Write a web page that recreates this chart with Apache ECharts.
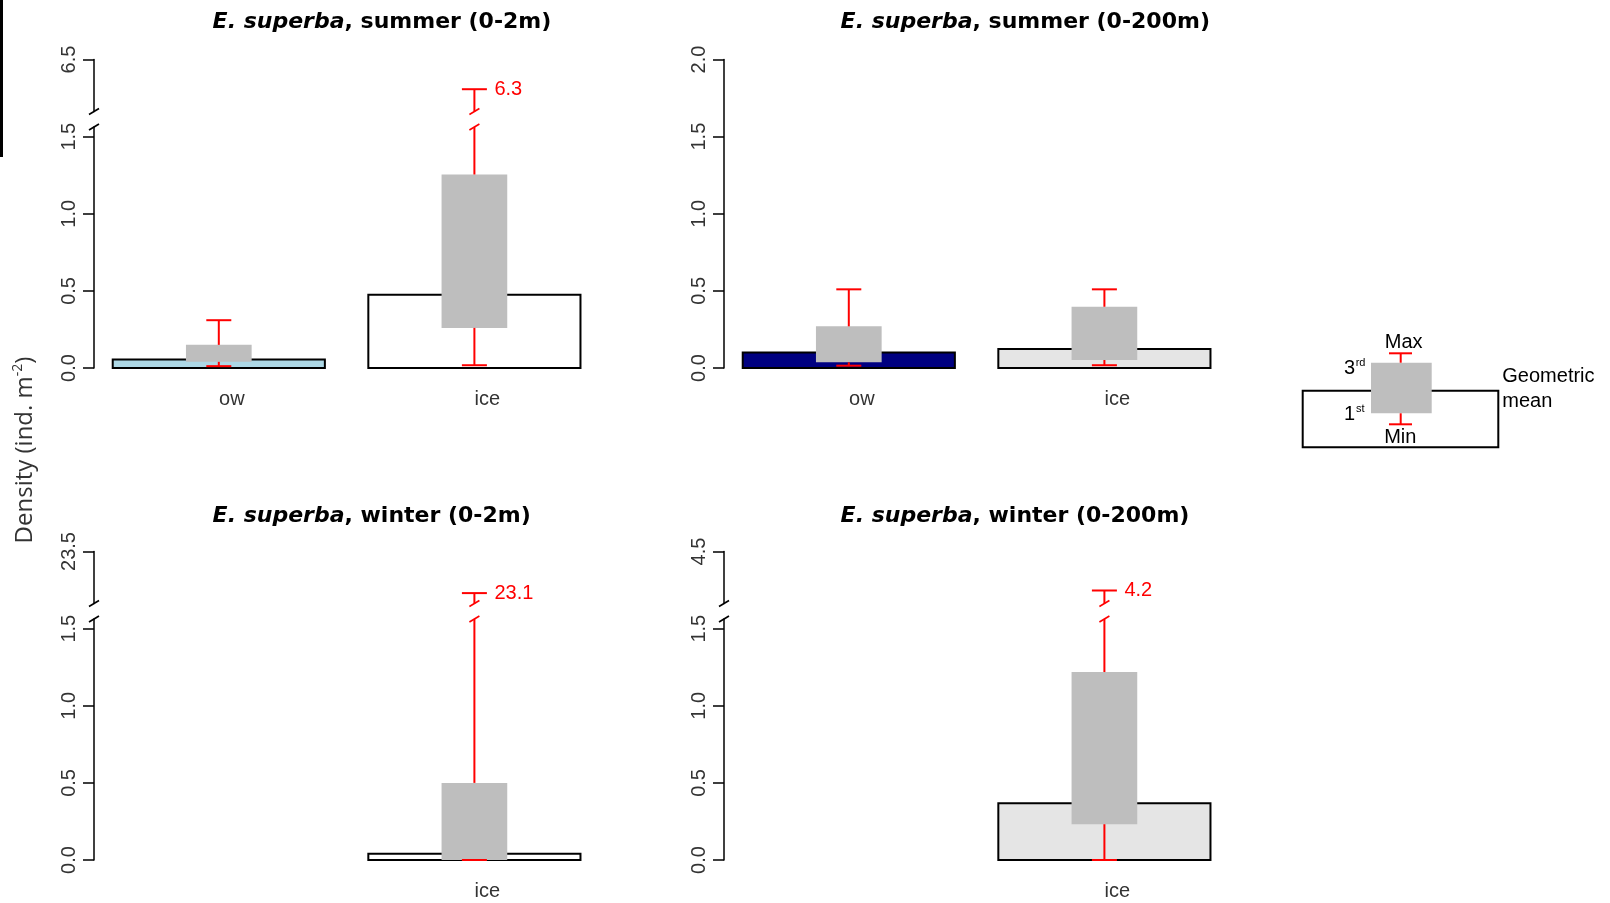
<!DOCTYPE html>
<html><head><meta charset="utf-8">
<script src="https://cdn.jsdelivr.net/npm/echarts@6/dist/echarts.min.js"></script>
<style>html,body{margin:0;padding:0;background:#fff}#c{width:1610px;height:903px}</style>
</head><body><div id="c"></div>
<script>
// ---------------- data ----------------
const categories = ['ow', 'ice'];

// E. superba, summer (0-2m)
const summer2Mean = [0.055, 0.475];
const summer2Q1   = [0.04, 0.26];
const summer2Q3   = [0.15, 1.255];
const summer2Min  = [0.012, 0.018];
const summer2Max  = [0.31, 6.3];

// E. superba, summer (0-200m)
const summer200Mean = [0.10, 0.123];
const summer200Q1   = [0.037, 0.052];
const summer200Q3   = [0.27, 0.397];
const summer200Min  = [0.015, 0.018];
const summer200Max  = [0.51, 0.51];

// E. superba, winter (0-2m)  (ice only)
const winter2Mean = [null, 0.04];
const winter2Q1   = [null, 0.0];
const winter2Q3   = [null, 0.50];
const winter2Min  = [null, 0.0];
const winter2Max  = [null, 23.1];

// E. superba, winter (0-200m)  (ice only)
const winter200Mean = [null, 0.368];
const winter200Q1   = [null, 0.232];
const winter200Q3   = [null, 1.219];
const winter200Min  = [null, 0.0];
const winter200Max  = [null, 4.2];

// axis ticks / breaks
const lowerTicks = [0, 0.5, 1.0, 1.5];
const fullTicks = [0, 0.5, 1.0, 1.5, 2.0];
const lowerAxisMax = 1.563;           // lower segment ends here (axis break)
const upperAxisMin = [6.15, null, 23.0, 4.1];
const upperTicks   = [6.5, null, 23.5, 4.5];

// ---------------- layout / style ----------------
const COL_LEFT = [91, 721];
const ROW_TOP = [59.5, 551.5];
const GRID_W = 511.2;
const AXIS_SHIFT = 3;
const TITLE_LEFT = [212.6, 840.6];
const TITLE_TOP = [11, 505];
const RED = '#ff0000';
const BOXGRAY = '#bebebe';
const TICK_FONT = 20;

const panels = [
  { name: 'summer (0-2m)', col: 0, row: 0, mean: summer2Mean, q1: summer2Q1, q3: summer2Q3, mn: summer2Min, mx: summer2Max,
    colors: ['#add8e6', '#ffffff'], broken: true, pi: 0 },
  { name: 'summer (0-200m)', col: 1, row: 0, mean: summer200Mean, q1: summer200Q1, q3: summer200Q3, mn: summer200Min, mx: summer200Max,
    colors: ['#000080', '#e5e5e5'], broken: false, pi: 1 },
  { name: 'winter (0-2m)', col: 0, row: 1, mean: winter2Mean, q1: winter2Q1, q3: winter2Q3, mn: winter2Min, mx: winter2Max,
    colors: ['#ffffff', '#ffffff'], broken: true, pi: 2 },
  { name: 'winter (0-200m)', col: 1, row: 1, mean: winter200Mean, q1: winter200Q1, q3: winter200Q3, mn: winter200Min, mx: winter200Max,
    colors: ['#ffffff', '#e5e5e5'], broken: true, pi: 3 }
];

function ln(x1, y1, x2, y2, color, w) {
  return { type: 'line', shape: { x1, y1, x2, y2 }, style: { stroke: color, lineWidth: w || 2 } };
}
function slash(x, y, color) {
  return ln(x - 5, y + 3, x + 5, y - 3, color, 1.6);
}

function barRender(colors) {
  return function (params, api) {
    const i = api.value(0), v = api.value(1);
    const b = api.coord([i, 0]), t = api.coord([i, v]);
    const w = api.size([1, 0])[0] * 0.83;
    return { type: 'rect', shape: { x: b[0] - w / 2, y: t[1], width: w, height: b[1] - t[1] },
      style: { fill: colors[i], stroke: '#000', lineWidth: 2 } };
  };
}
function boxRender(params, api) {
  const i = api.value(0), q1 = api.value(1), q3 = api.value(2);
  const a = api.coord([i, q1]), c = api.coord([i, q3]);
  const w = api.size([1, 0])[0] * 0.257;
  return { type: 'rect', shape: { x: a[0] - w / 2, y: c[1], width: w, height: a[1] - c[1] }, style: { fill: BOXGRAY } };
}
function whiskerRender(params, api) {
  const i = api.value(0), q1 = api.value(1), q3 = api.value(2), mn = api.value(3), mx = api.value(4);
  const cs = params.coordSys;
  const pQ1 = api.coord([i, q1]), pQ3 = api.coord([i, q3]), pMin = api.coord([i, mn]), pMax = api.coord([i, mx]);
  const x = pQ1[0], cap = 12.5;
  const ch = [ln(x, pQ1[1], x, pMin[1], RED), ln(x - cap, pMin[1], x + cap, pMin[1], RED)];
  if (pMax[1] < cs.y - 0.5) {
    ch.push(ln(x, pQ3[1], x, cs.y, RED));
    ch.push(slash(x, cs.y, RED));
  } else {
    ch.push(ln(x, pQ3[1], x, pMax[1], RED));
    ch.push(ln(x - cap, pMax[1], x + cap, pMax[1], RED));
  }
  return { type: 'group', children: ch };
}
function whiskerTopRender(params, api) {
  const i = api.value(0), mx = api.value(1);
  const cs = params.coordSys;
  const p = api.coord([i, mx]);
  const x = p[0], yb = cs.y + cs.height, cap = 12.5;
  return { type: 'group', children: [
    ln(x, yb, x, p[1], RED),
    ln(x - cap, p[1], x + cap, p[1], RED),
    slash(x, yb, RED),
    { type: 'text', x: x + 20, y: p[1], style: { text: String(mx), fill: RED, fontSize: 20, fontFamily: 'Liberation Sans', align: 'left', verticalAlign: 'middle' } }
  ] };
}
function axisSlashRender(atBottom) {
  return function (params, api) {
    const cs = params.coordSys;
    return slash(cs.x + AXIS_SHIFT, atBottom ? cs.y + cs.height : cs.y, '#000');
  };
}

const grids = [], xAxes = [], yAxes = [], series = [], titles = [];

function addGrid(top, height, left) {
  grids.push({ left, top, width: GRID_W, height, containLabel: false, outerBoundsMode: 'none' });
  return grids.length - 1;
}
function tickLabel(values) {
  return { show: true, rotate: 90, margin: 15, fontSize: TICK_FONT, fontFamily: 'Liberation Sans', color: '#333',
    formatter: v => Number(v).toFixed(1), customValues: values };
}
function tickMarks(values) {
  return { show: true, length: 11, lineStyle: { color: '#000', width: 1.5 }, customValues: values };
}
function yAxisBase(g, extra) {
  return Object.assign({
    gridIndex: g, type: 'value', offset: -AXIS_SHIFT,
    axisLine: { show: true, lineStyle: { color: '#000', width: 1.5 } },
    splitLine: { show: false }
  }, extra);
}

panels.forEach(p => {
  const left = COL_LEFT[p.col], T = ROW_TOP[p.row];
  const hasData = p.mean.map(v => v != null);
  const xBase = (g, showLabels) => ({
    gridIndex: g, type: 'category', data: categories, boundaryGap: true,
    axisLine: { show: false }, axisTick: { show: false }, splitLine: { show: false },
    axisLabel: { show: showLabels, fontSize: 20, fontFamily: 'Liberation Sans', color: '#333', margin: 21,
      padding: [0, 0, 0, 26], formatter: (v, idx) => hasData[idx] ? v : '' }
  });

  let gLow;
  if (p.broken) {
    const gUp = addGrid(T, 52, left);
    xAxes.push(xBase(gUp, false));
    yAxes.push(yAxisBase(gUp, { min: upperAxisMin[p.pi], max: upperTicks[p.pi],
      axisTick: tickMarks([upperTicks[p.pi]]), axisLabel: tickLabel([upperTicks[p.pi]]) }));
    gLow = addGrid(T + 67.5, 241, left);
    xAxes.push(xBase(gLow, true));
    yAxes.push(yAxisBase(gLow, { min: 0, max: lowerAxisMax, interval: 0.5,
      axisTick: tickMarks(lowerTicks), axisLabel: tickLabel(lowerTicks) }));
    const topData = [];
    p.mx.forEach((v, i) => { if (v != null && v > lowerAxisMax) topData.push([i, v]); });
    series.push({ type: 'custom', xAxisIndex: gUp, yAxisIndex: gUp, renderItem: whiskerTopRender, data: topData, z: 4, silent: true });
    series.push({ type: 'custom', xAxisIndex: gUp, yAxisIndex: gUp, renderItem: axisSlashRender(true), data: [[0, upperTicks[p.pi]]], z: 4, silent: true });
    series.push({ type: 'custom', xAxisIndex: gLow, yAxisIndex: gLow, renderItem: axisSlashRender(false), data: [[0, 0]], z: 4, silent: true });
  } else {
    gLow = addGrid(T, 308.5, left);
    xAxes.push(xBase(gLow, true));
    yAxes.push(yAxisBase(gLow, { min: 0, max: 2, interval: 0.5,
      axisTick: tickMarks(fullTicks), axisLabel: tickLabel(fullTicks) }));
  }
  const barData = [], boxData = [], whData = [];
  categories.forEach((c, i) => {
    if (!hasData[i]) return;
    barData.push([i, p.mean[i]]);
    boxData.push([i, p.q1[i], p.q3[i]]);
    whData.push([i, p.q1[i], p.q3[i], p.mn[i], p.mx[i]]);
  });
  series.push({ type: 'custom', xAxisIndex: gLow, yAxisIndex: gLow, renderItem: barRender(p.colors), data: barData, z: 2, silent: true });
  series.push({ type: 'custom', xAxisIndex: gLow, yAxisIndex: gLow, renderItem: boxRender, data: boxData, z: 3, silent: true });
  series.push({ type: 'custom', xAxisIndex: gLow, yAxisIndex: gLow, renderItem: whiskerRender, data: whData, z: 4, silent: true });

  titles.push({
    text: '{i|E. superba}, ' + p.name, left: TITLE_LEFT[p.col], top: TITLE_TOP[p.row], padding: 0,
    textStyle: { fontFamily: 'DejaVu Sans', fontWeight: 'bold', fontSize: 22, color: '#000',
      rich: { i: { fontFamily: 'DejaVu Sans', fontWeight: 'bold', fontStyle: 'italic', fontSize: 22, color: '#000' } } }
  });
});

const T20 = (text, x, y, align, size) => ({ type: 'text', x, y, z: 10,
  style: { text, fill: '#000', fontSize: size || 20, fontFamily: 'Liberation Sans', align: align || 'center', verticalAlign: 'middle' } });

const graphics = [
  // artifact black bar at top-left of the reference
  { type: 'rect', shape: { x: 0, y: 0, width: 3, height: 157 }, style: { fill: '#000' }, z: 10 },
  // clipping of the top-right panel
  { type: 'rect', shape: { x: 1213, y: 0, width: 40, height: 45 }, style: { fill: '#fff' }, z: 100 },
  // y-axis title
  { type: 'text', x: 25.5, y: 450, rotation: Math.PI / 2, z: 10,
    style: { text: '{a|Density (ind. m}{s|-2}{a|)}', align: 'center', verticalAlign: 'middle',
      rich: { a: { fontFamily: 'Open Sans', fontSize: 24, fill: '#333', color: '#333', lineHeight: 28 },
              s: { fontFamily: 'Open Sans', fontSize: 14, fill: '#333', color: '#333', lineHeight: 28, verticalAlign: 'top' } } } },
  // legend key
  { type: 'rect', shape: { x: 1302.7, y: 390.7, width: 195.6, height: 56.6 }, style: { fill: '#fff', stroke: '#000', lineWidth: 2 }, z: 10 },
  { type: 'rect', shape: { x: 1371, y: 362.7, width: 60.7, height: 50.6 }, style: { fill: BOXGRAY }, z: 11 },
  Object.assign(ln(1400.7, 353.3, 1400.7, 362.7, RED), { z: 12 }),
  Object.assign(ln(1389, 353.3, 1412, 353.3, RED), { z: 12 }),
  Object.assign(ln(1400.7, 413.3, 1400.7, 424.3, RED), { z: 12 }),
  Object.assign(ln(1389, 424.3, 1412, 424.3, RED), { z: 12 }),
  T20('Max', 1403.7, 342.7), T20('Quar-', 1402.5, 380), T20('tiles', 1401.7, 401), T20('Min', 1400.3, 437.3),
  T20('3', 1355, 368, 'right'), T20('rd', 1355.7, 362.5, 'left', 11),
  T20('1', 1355, 414.3, 'right'), T20('st', 1356, 408.5, 'left', 11),
  T20('Geometric', 1502.3, 376.7, 'left'), T20('mean', 1502.3, 401, 'left')
];

const chart = echarts.init(document.getElementById('c'), null, { renderer: 'canvas' });
chart.setOption({
  animation: false,
  backgroundColor: '#fff',
  title: titles,
  grid: grids, xAxis: xAxes, yAxis: yAxes, series,
  graphic: graphics
});
</script></body></html>
